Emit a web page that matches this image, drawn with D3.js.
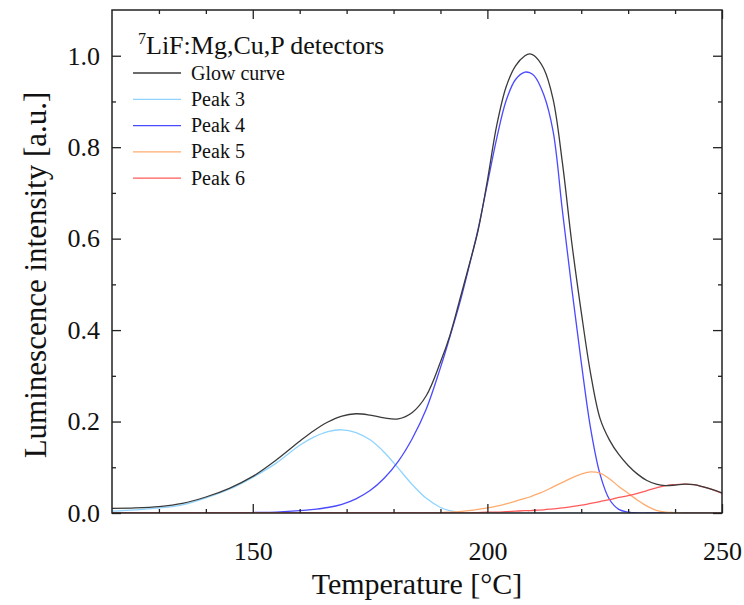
<!DOCTYPE html>
<html>
<head>
<meta charset="utf-8">
<script src="https://d3js.org/d3.v7.min.js"></script>
<style>
  html, body { margin: 0; padding: 0; background: #fff; }
  svg { display: block; }
  text { font-family: "Liberation Serif", "Times New Roman", Times, "DejaVu Serif", serif; fill: #111; }
</style>
</head>
<body>
<svg id="chart" width="744" height="605"></svg>
<script>
// ---- data ----
const temps = [120,125,130,135,140,145,150,155,160,163,166,169,172,175,178,181,184,187,190,192,194,196,198,200,202,204,206,208,209,210,212,214,216,218,220,222,224,226,228,230,232,234,236,238,240,242,244,246,248,250];

const glowCurve = [0.010,0.011,0.014,0.021,0.035,0.054,0.080,0.116,0.157,0.180,0.199,0.212,0.217,0.214,0.208,0.206,0.220,0.257,0.330,0.388,0.462,0.538,0.617,0.727,0.848,0.932,0.978,1.000,1.004,1.000,0.972,0.905,0.765,0.590,0.440,0.305,0.207,0.160,0.128,0.104,0.085,0.071,0.063,0.060,0.061,0.063,0.062,0.057,0.051,0.044];

const peak3 = [0.004,0.007,0.011,0.018,0.033,0.052,0.078,0.109,0.148,0.166,0.178,0.182,0.176,0.160,0.133,0.098,0.062,0.032,0.012,0.005,0.001,0,0,0,0,0,0,0,0,0,0,0,0,0,0,0,0,0,0,0,0,0,0,0,0,0,0,0,0,0];

const peak4 = [0,0,0,0,0,0,0.001,0.002,0.005,0.008,0.012,0.019,0.031,0.049,0.076,0.113,0.163,0.228,0.318,0.385,0.455,0.535,0.620,0.720,0.820,0.902,0.948,0.964,0.963,0.956,0.915,0.835,0.660,0.490,0.330,0.185,0.085,0.030,0.008,0.002,0,0,0,0,0,0,0,0,0,0];

const peak5 = [0,0,0,0,0,0,0,0,0,0,0,0,0,0,0,0,0,0,0.001,0.002,0.003,0.005,0.008,0.011,0.015,0.020,0.026,0.032,0.035,0.039,0.047,0.057,0.067,0.077,0.085,0.090,0.087,0.075,0.058,0.043,0.028,0.015,0.006,0.002,0.001,0,0,0,0,0];

const peak6 = [0,0,0,0,0,0,0,0,0,0,0,0,0,0,0,0,0,0,0,0,0,0,0.001,0.002,0.002,0.003,0.004,0.005,0.005,0.006,0.007,0.009,0.011,0.014,0.017,0.021,0.025,0.029,0.034,0.038,0.043,0.049,0.055,0.060,0.062,0.063,0.062,0.057,0.051,0.043];

const seriesNames = ["Glow curve","Peak 3","Peak 4","Peak 5","Peak 6"];
const seriesColors = ["#3a3a3a","#8fd3ff","#4a4aff","#ffab6e","#ff5a5a"];

const xMajorTicks = [150,200,250];
const xMinorTicks = [130,140,160,170,180,190,210,220,230,240];
const yMajorTicks = [0,0.2,0.4,0.6,0.8,1.0];
const yMinorTicks = [0.1,0.3,0.5,0.7,0.9];

// ---- layout ----
const FONT = '"Liberation Serif", "Times New Roman", Times, serif';
const svg = d3.select("#chart");
const m = {left:112, right:722, top:10, bottom:513};
const x = d3.scaleLinear().domain([120,250]).range([m.left, m.right]);
const y = d3.scaleLinear().domain([0,1.1]).range([m.bottom, m.top]);

const allSeries = [glowCurve, peak3, peak4, peak5, peak6];

svg.append("defs").append("clipPath").attr("id","clip")
  .append("rect").attr("x",m.left).attr("y",m.top)
  .attr("width",m.right-m.left).attr("height",m.bottom-m.top);

const line = d3.line().x(d=>x(d[0])).y(d=>y(d[1])).curve(d3.curveCatmullRom.alpha(0.5));

const g = svg.append("g").attr("clip-path","url(#clip)");
[1,2,3,4,0].forEach(i=>{
  g.append("path")
    .datum(temps.map((t,k)=>[t, allSeries[i][k]]))
    .attr("fill","none")
    .attr("stroke",seriesColors[i])
    .attr("stroke-width",1.3)
    .attr("d",line);
});

// ---- axes ----
function styleAxis(sel){
  sel.attr("font-family", FONT);
  sel.select(".domain").remove();
  sel.selectAll(".tick line").attr("stroke","#222").attr("stroke-width",1.3);
  sel.selectAll(".tick text").attr("font-size",26).style("font-family",FONT).attr("fill","#111");
}
// bottom
svg.append("g").attr("transform",`translate(0,${m.bottom})`)
  .call(d3.axisBottom(x).tickValues(xMajorTicks).tickSize(-9).tickPadding(29).tickFormat(d3.format("d")))
  .call(styleAxis);
svg.append("g").attr("transform",`translate(0,${m.bottom})`)
  .call(d3.axisBottom(x).tickValues(xMinorTicks).tickSize(-4).tickFormat(""))
  .call(styleAxis);
// top
svg.append("g").attr("transform",`translate(0,${m.top})`)
  .call(d3.axisTop(x).tickValues(xMajorTicks).tickSize(-9).tickFormat(""))
  .call(styleAxis);
svg.append("g").attr("transform",`translate(0,${m.top})`)
  .call(d3.axisTop(x).tickValues(xMinorTicks).tickSize(-4).tickFormat(""))
  .call(styleAxis);
// left
svg.append("g").attr("transform",`translate(${m.left},0)`)
  .call(d3.axisLeft(y).tickValues(yMajorTicks).tickSize(-9).tickPadding(12).tickFormat(d3.format(".1f")))
  .call(styleAxis);
svg.append("g").attr("transform",`translate(${m.left},0)`)
  .call(d3.axisLeft(y).tickValues(yMinorTicks).tickSize(-4).tickFormat(""))
  .call(styleAxis);
// right
svg.append("g").attr("transform",`translate(${m.right},0)`)
  .call(d3.axisRight(y).tickValues(yMajorTicks).tickSize(-9).tickFormat(""))
  .call(styleAxis);
svg.append("g").attr("transform",`translate(${m.right},0)`)
  .call(d3.axisRight(y).tickValues(yMinorTicks).tickSize(-4).tickFormat(""))
  .call(styleAxis);

// frame
svg.append("rect").attr("x",m.left).attr("y",m.top)
  .attr("width",m.right-m.left).attr("height",m.bottom-m.top)
  .attr("fill","none").attr("stroke","#222").attr("stroke-width",1.5);

// axis titles
svg.append("text").attr("x",417).attr("y",594)
  .attr("text-anchor","middle").attr("font-size",30).style("font-family",FONT).text("Temperature [°C]");
svg.append("text").attr("transform",`translate(46,275) rotate(-90)`)
  .attr("text-anchor","middle").attr("font-size",31).style("font-family",FONT).text("Luminescence intensity [a.u.]");

// legend
const lt = svg.append("text").attr("x",138).attr("y",54).attr("font-size",26).style("font-family",FONT);
lt.append("tspan").attr("font-size",16).attr("dy",-10).text("7");
lt.append("tspan").attr("dy",10).text("LiF:Mg,Cu,P detectors");

seriesNames.forEach((name,i)=>{
  const yy = 73 + i*26.3;
  svg.append("line").attr("x1",133).attr("x2",181).attr("y1",yy).attr("y2",yy)
    .attr("stroke",seriesColors[i]).attr("stroke-width",1.3);
  svg.append("text").attr("x",191).attr("y",yy+6.5).attr("font-size",20).style("font-family",FONT).text(name);
});
</script>
</body>
</html>
